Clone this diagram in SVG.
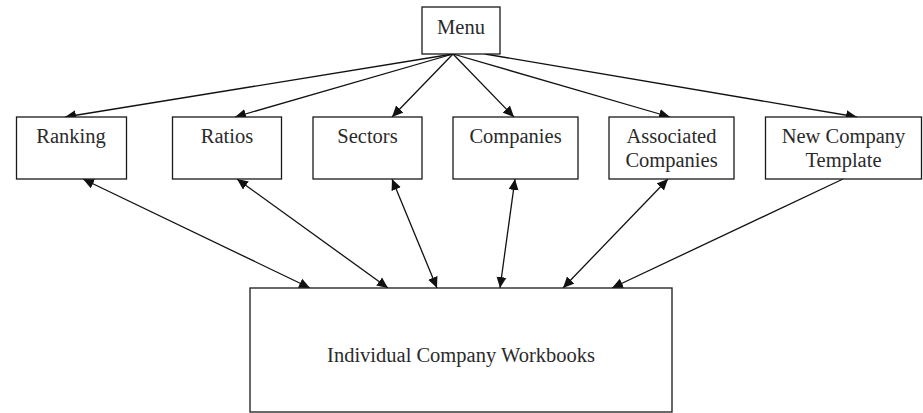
<svg xmlns="http://www.w3.org/2000/svg" width="923" height="413" viewBox="0 0 923 413">
  <style>
    .box { fill: #ffffff; stroke: #1a1a1a; stroke-width: 1.3; }
    .label { font-family: 'Liberation Serif', 'DejaVu Serif', serif; font-size: 20.5px; fill: #2a2a2a; text-anchor: middle; }
    .link { stroke: #111111; stroke-width: 1.3; fill: none; }
    .one { marker-end: url(#arrow); }
    .two { marker-start: url(#arrow); marker-end: url(#arrow); }
  </style>
  <defs>
    <marker id="arrow" markerUnits="userSpaceOnUse" markerWidth="12" markerHeight="11" refX="11" refY="5.5" orient="auto-start-reverse">
      <path d="M0,0.5 L11,5.5 L0,10.5 Z" fill="#111111"/>
    </marker>
  </defs>

  <rect width="923" height="413" fill="#ffffff"/>

  <!-- connectors -->
  <g id="connectors">
    <line class="link one" x1="453" y1="54" x2="65" y2="117"/>
    <line class="link one" x1="453" y1="54" x2="235" y2="117"/>
    <line class="link one" x1="453" y1="54" x2="392" y2="117"/>
    <line class="link one" x1="453" y1="54" x2="514" y2="117"/>
    <line class="link one" x1="453" y1="54" x2="670" y2="117"/>
    <line class="link one" x1="485" y1="54" x2="857" y2="117"/>

    <line class="link two" x1="83" y1="179" x2="310" y2="288"/>
    <line class="link two" x1="237" y1="179" x2="388" y2="288"/>
    <line class="link two" x1="392" y1="179" x2="437" y2="288"/>
    <line class="link two" x1="515" y1="179" x2="500" y2="288"/>
    <line class="link two" x1="668" y1="179" x2="563" y2="288"/>
    <line class="link one" x1="843" y1="179" x2="612" y2="288"/>
  </g>

  <g id="menu">
    <rect class="box" x="422" y="7" width="78" height="47"/>
    <text class="label" x="461" y="34" font-family="Liberation Serif, serif">Menu</text>
  </g>
  <g id="ranking">
    <rect class="box" x="16.5" y="117" width="110" height="62"/>
    <text class="label" x="71" y="143">Ranking</text>
  </g>
  <g id="ratios">
    <rect class="box" x="172.5" y="117" width="109" height="62"/>
    <text class="label" x="227" y="143">Ratios</text>
  </g>
  <g id="sectors">
    <rect class="box" x="313" y="117" width="109" height="62"/>
    <text class="label" x="367.5" y="143">Sectors</text>
  </g>
  <g id="companies">
    <rect class="box" x="453" y="117" width="125" height="62"/>
    <text class="label" x="515.5" y="143">Companies</text>
  </g>
  <g id="associated-companies">
    <rect class="box" x="609" y="117" width="125" height="62"/>
    <text class="label" x="671.5" y="143">Associated</text>
    <text class="label" x="671.5" y="166.5">Companies</text>
  </g>
  <g id="new-company-template">
    <rect class="box" x="765.5" y="117" width="156" height="62"/>
    <text class="label" x="843.5" y="143">New Company</text>
    <text class="label" x="843.5" y="166.5">Template</text>
  </g>
  <g id="workbooks">
    <rect class="box" x="250" y="288" width="422" height="124"/>
    <text class="label" x="461" y="362">Individual Company Workbooks</text>
  </g>
</svg>
